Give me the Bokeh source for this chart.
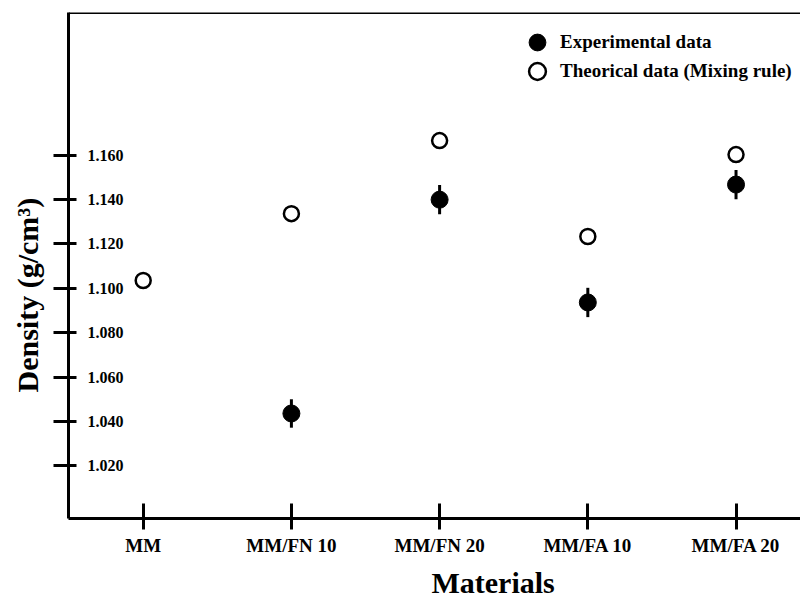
import numpy as np
from bokeh.plotting import figure
from bokeh.models import (Range1d, FixedTicker, NumeralTickFormatter, Legend, LegendItem,
                          Span, Title, LinearAxis, ColumnDataSource, CustomJSTickFormatter)
from bokeh.embed import file_html
from bokeh.resources import INLINE

# ---- data ----
materials = ["MM", "MM/FN 10", "MM/FN 20", "MM/FA 10", "MM/FA 20"]
experimental = [np.nan, 1.0436, 1.1399, 1.0936, 1.1467]
experimental_err = [np.nan, 0.0064, 0.0066, 0.0066, 0.0066]
theoretical = [1.1035, 1.1336, 1.1665, 1.1233, 1.1602]
y_ticks = [1.020, 1.040, 1.060, 1.080, 1.100, 1.120, 1.140, 1.160]

x_index = list(range(len(materials)))
exp_arr = np.array(experimental)
err_arr = np.array(experimental_err)
src = ColumnDataSource(dict(
    x=x_index,
    exp=exp_arr,
    lo=exp_arr - err_arr,
    hi=exp_arr + err_arr,
    theo=theoretical,
))

SERIF = "Liberation Serif"
Y0, Y1 = 0.9963, 1.2242

p = figure(width=800, height=599, output_backend="svg", toolbar_location=None,
           title=None, x_range=Range1d(-0.504, 4.435), y_range=Range1d(Y0, Y1),
           min_border_left=68, min_border_right=0, min_border_top=12, min_border_bottom=81)
p.outline_line_color = None
p.xgrid.visible = False
p.ygrid.visible = False
p.background_fill_color = "white"
p.border_fill_color = "white"

# top border line of the frame
p.add_layout(Span(location=Y1, dimension="width", line_color="black", line_width=3))

# error bars and points
p.segment(x0="x", y0="lo", x1="x", y1="hi", source=src, line_color="black", line_width=3)
r_exp = p.scatter(x="x", y="exp", source=src, size=17, marker="circle",
                  fill_color="black", line_color="black", line_width=1)
r_theo = p.scatter(x="x", y="theo", source=src, size=15, marker="circle",
                   fill_color="white", line_color="black", line_width=2.5)

# x axis
xa = p.xaxis[0]
xa.ticker = FixedTicker(ticks=x_index)
xa.major_label_overrides = {i: m for i, m in zip(x_index, materials)}
xa.axis_line_width = 3
xa.major_tick_line_width = 3
xa.major_tick_in = 15
xa.major_tick_out = 11
xa.minor_tick_line_color = None
xa.major_label_standoff = 5
xa.major_label_text_font = SERIF
xa.major_label_text_font_style = "bold"
xa.major_label_text_font_size = "19px"
xa.major_label_text_color = "black"

# y axis (tick labels drawn inside the frame)
ya = p.yaxis[0]
ya.ticker = FixedTicker(ticks=y_ticks)
ya.formatter = NumeralTickFormatter(format="0.000")
ya.axis_line_width = 3
ya.major_tick_line_width = 3
ya.major_tick_in = 8
ya.major_tick_out = 15
ya.minor_tick_line_color = None
ya.major_label_standoff = -70
ya.major_label_text_font = SERIF
ya.major_label_text_font_style = "bold"
ya.major_label_text_font_size = "16px"
ya.major_label_text_color = "black"


def spacer(gap, tick):
    # invisible axis (one hidden tick, empty label) that only reserves space
    return LinearAxis(ticker=FixedTicker(ticks=[tick]),
                      formatter=CustomJSTickFormatter(code="return ''"),
                      axis_line_color=None, major_tick_line_color=None,
                      minor_tick_line_color=None, major_tick_in=0, major_tick_out=gap,
                      minor_tick_in=0, minor_tick_out=0, major_label_standoff=0)


p.add_layout(spacer(25, y_ticks[4]), "left")
p.add_layout(Title(text="Density (g/cm³)", align="left", offset=126, text_font=SERIF,
                   text_font_style="bold", text_font_size="30px", text_color="black",
                   standoff=0), "left")
p.add_layout(spacer(5, x_index[2]), "below")
p.add_layout(Title(text="Materials", align="left", offset=363, text_font=SERIF,
                   text_font_style="bold", text_font_size="30px", text_color="black",
                   standoff=0), "below")

common = dict(glyph_width=42, glyph_height=42, padding=0, margin=0, label_standoff=2,
              border_line_color=None, background_fill_alpha=0, label_text_font=SERIF,
              label_text_font_style="bold", label_text_font_size="19px",
              label_text_color="black")
leg1 = Legend(items=[LegendItem(label="Experimental data", renderers=[r_exp])],
              location=(448, 455), **common)
leg2 = Legend(items=[LegendItem(label="Theorical data (Mixing rule)", renderers=[r_theo])],
              location=(448, 426), **common)
p.add_layout(leg1)
p.add_layout(leg2)

open("out.html", "w").write(file_html(p, INLINE))
